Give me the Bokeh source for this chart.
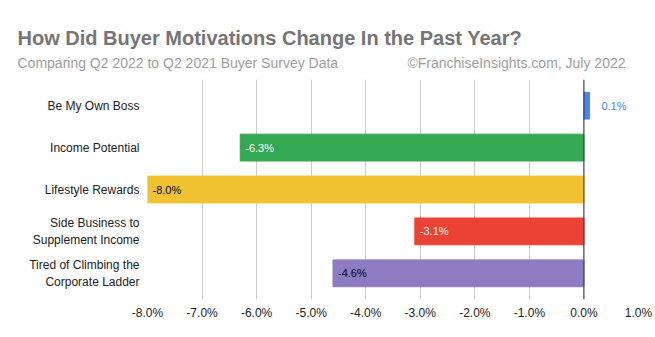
from bokeh.plotting import figure
from bokeh.layouts import column, row
from bokeh.models import FactorRange, Range1d, PrintfTickFormatter, FixedTicker, ColumnDataSource, Span
from bokeh.core.properties import value
from bokeh.embed import file_html
from bokeh.resources import INLINE

categories = ["Be My Own Boss", "Income Potential", "Lifestyle Rewards",
              "Side Business to\nSupplement Income", "Tired of Climbing the\nCorporate Ladder"]
values = [0.1, -6.3, -8.0, -3.1, -4.6]
colors = ["#4285F4", "#34A853", "#F1C232", "#EA4335", "#8E7CC3"]
label_colors = ["#4285F4", "#FFFFFF", "#000000", "#FFFFFF", "#000000"]
x_ticks = [-8, -7, -6, -5, -4, -3, -2, -1, 0, 1]
title_text = "How Did Buyer Motivations Change In the Past Year?"
subtitle_text = "Comparing Q2 2022 to Q2 2021 Buyer Survey Data"
credit_text = "©FranchiseInsights.com, July 2022"

FONT = "Liberation Sans"
W, H, HEAD = 655, 337, 79
FL, FB = 147, 299

# header
hd = figure(width=W, height=HEAD, output_backend="svg", toolbar_location=None,
            x_range=Range1d(0, W), y_range=Range1d(HEAD, 0),
            x_axis_type=None, y_axis_type=None,
            min_border_left=0, min_border_right=0, min_border_top=0, min_border_bottom=0)
hd.outline_line_color = None
hd.grid.visible = False
hd.text(x=[17], y=[37], text=[title_text], text_font=value(FONT), text_font_size="20px",
        text_font_style="bold", text_color="#757575", text_baseline="alphabetic")
hd.text(x=[17], y=[62], text=[subtitle_text], text_font=value(FONT), text_font_size="14px",
        text_color="#9E9E9E", text_baseline="alphabetic")
hd.text(x=[625], y=[62], text=[credit_text], text_font=value(FONT), text_font_size="14px",
        text_color="#9E9E9E", text_baseline="alphabetic", text_align="right")

labels = [f"{v:.1f}%" for v in values]
offsets = [12 if v > 0 else 5 for v in values]
src = ColumnDataSource(dict(cat=categories, val=values, color=colors, lab=labels,
                            lcol=label_colors, off=offsets))

p = figure(width=W, height=H - HEAD, output_backend="svg", toolbar_location=None,
           y_range=FactorRange(*reversed(categories), range_padding=0.05),
           x_range=Range1d(-8, 1),
           min_border_left=FL, min_border_right=17, min_border_top=0, min_border_bottom=H - FB)
p.outline_line_color = None
p.background_fill_color = "white"
p.border_fill_color = "white"

p.hbar(y="cat", right="val", left=0, height=0.64, color="color", source=src)
p.text(x="val", y="cat", text="lab", text_color="lcol", x_offset="off",
       text_align="left", text_baseline="middle", text_font_size="11px",
       text_font=value(FONT), source=src)

p.add_layout(Span(location=0, dimension="height", line_color="#333333", line_width=1))

p.xaxis.ticker = FixedTicker(ticks=x_ticks)
p.xaxis.formatter = PrintfTickFormatter(format="%.1f%%")
p.xaxis.axis_line_color = None
p.xaxis.major_tick_line_color = None
p.xaxis.minor_tick_line_color = None
p.xaxis.major_label_text_font = FONT
p.xaxis.major_label_text_font_size = "12px"
p.xaxis.major_label_text_color = "#222222"
p.xaxis.major_label_standoff = 0

p.yaxis.axis_line_color = None
p.yaxis.major_tick_line_color = None
p.yaxis.minor_tick_line_color = None
p.yaxis.major_label_text_font = FONT
p.yaxis.major_label_text_font_size = "12px"
p.yaxis.major_label_text_color = "#222222"
p.yaxis.major_label_standoff = 2

p.xgrid.grid_line_color = "#CCCCCC"
p.ygrid.grid_line_color = None

layout = column(row(hd), p, spacing=0)
open("out.html", "w").write(file_html(layout, INLINE))
